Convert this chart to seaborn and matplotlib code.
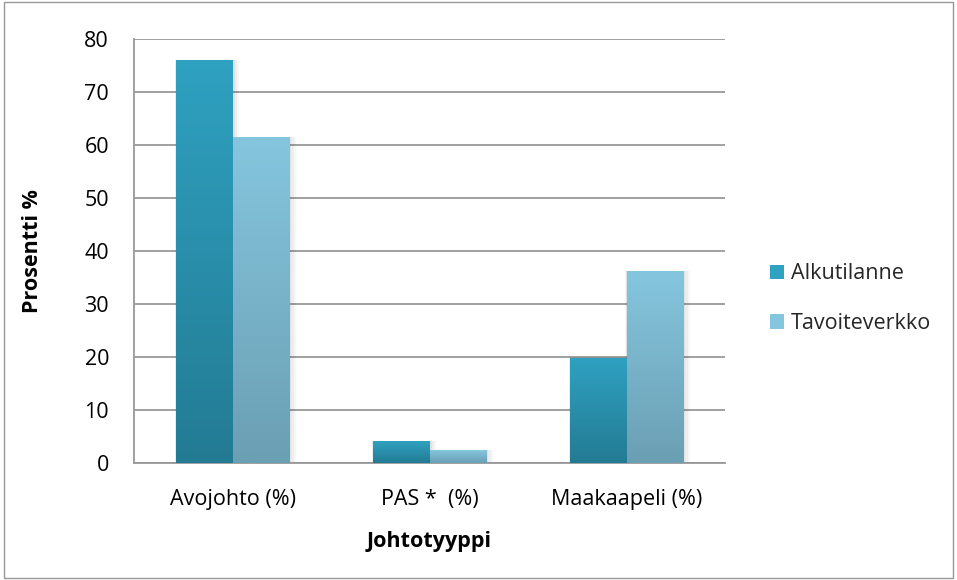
import numpy as np
import pandas as pd
import matplotlib
matplotlib.use('Agg')
import matplotlib.pyplot as plt
import matplotlib.colors as mcolors
from matplotlib.patches import Rectangle, Patch
import seaborn as sns

# Data
kategoriat = ['Avojohto (%)', 'PAS *  (%)', 'Maakaapeli (%)']
alkutilanne = [76.0, 4.1, 19.9]
tavoiteverkko = [61.5, 2.4, 36.2]
sarjat = ['Alkutilanne', 'Tavoiteverkko']

df = pd.DataFrame({
    'Johtotyyppi': kategoriat * 2,
    'Prosentti': alkutilanne + tavoiteverkko,
    'Sarja': [sarjat[0]] * 3 + [sarjat[1]] * 3,
})

# liukuväri (ylä, ala)
varit = {
    'Alkutilanne': ('#2fa1c1', '#237b93'),
    'Tavoiteverkko': ('#85c6de', '#6b9fb3'),
}
harmaa = '#989898'
koko = 15.5

sns.set_style('white')
plt.rcParams['font.family'] = ['Open Sans', 'DejaVu Sans']

fig = plt.figure(figsize=(9.57, 5.8), dpi=100)
ax = fig.add_axes([134 / 957, 1 - 463 / 580, 591 / 957, 424 / 580])

sns.barplot(data=df, x='Johtotyyppi', y='Prosentti', hue='Sarja',
            palette={k: v[0] for k, v in varit.items()},
            width=0.575, gap=0, ax=ax, legend=False, zorder=3)

ax.set_xlim(-0.5, 2.5)
ax.set_ylim(0, 80)

# liukuväri + varjo
for cont, nimi in zip(ax.containers, sarjat):
    yla, ala = varit[nimi]
    cmap = mcolors.LinearSegmentedColormap.from_list(nimi, [ala, yla])
    for bar in cont:
        x0, y0 = bar.get_x(), bar.get_y()
        w, h = bar.get_width(), bar.get_height()
        for i, a in enumerate([0.05, 0.04, 0.03]):
            d = 0.006 * (i + 1)
            ax.add_patch(Rectangle((x0 - d * 0.3, y0), w + d * 2.2, h + d * 4,
                                   facecolor='black', alpha=a, edgecolor='none', zorder=2))
        bar.set_facecolor('none')
        bar.set_edgecolor('none')
        grad = np.linspace(0, 1, 256).reshape(-1, 1)
        im = ax.imshow(grad, cmap=cmap, origin='lower', aspect='auto',
                       extent=[x0, x0 + w, y0, y0 + h], zorder=3)
        im.set_clip_path(bar)

ax.set_xlim(-0.5, 2.5)
ax.set_ylim(0, 80)

ax.set_yticks(range(0, 81, 10))
ax.yaxis.grid(True, color=harmaa, linewidth=1.3, zorder=0)
ax.set_axisbelow(True)
for s in ['top', 'right']:
    ax.spines[s].set_visible(False)
for s in ['left', 'bottom']:
    ax.spines[s].set_color(harmaa)
    ax.spines[s].set_linewidth(1.3)

ax.set_xticks([0, 1, 2])
ax.set_xticklabels(kategoriat)
ax.set_xticks([-0.5, 0.5, 1.5, 2.5], minor=True)
ax.tick_params(axis='x', which='major', length=0, pad=19, labelsize=koko, labelcolor='black')
ax.tick_params(axis='x', which='minor', length=6, width=1.3, color=harmaa, direction='out')
ax.tick_params(axis='y', length=6, width=1.3, color=harmaa, direction='out',
               pad=12, labelsize=koko, labelcolor='black')

ax.set_xlabel('Johtotyyppi', fontsize=koko, fontweight='bold', color='black', va='center')
ax.set_ylabel('Prosentti %', fontsize=koko, fontweight='bold', color='black', va='center')
ax.xaxis.set_label_coords(0.5, (463 - 541) / 424)
ax.yaxis.set_label_coords((33 - 134) / 591, 0.5)

kahvat = [Patch(facecolor=varit[n][0], edgecolor='none') for n in sarjat]
fig.legend(kahvat, sarjat, loc='center left', bbox_to_anchor=(0.793, 0.485),
           frameon=False, fontsize=koko, handlelength=0.65, handleheight=0.65,
           handletextpad=0.35, labelspacing=1.32, borderpad=0)

# ulkokehys
fig.patches.append(Rectangle((0.004, 0.004), 0.992, 0.992, transform=fig.transFigure,
                             facecolor='none', edgecolor=harmaa, linewidth=1.0))

fig.savefig('out.png', dpi=100)
